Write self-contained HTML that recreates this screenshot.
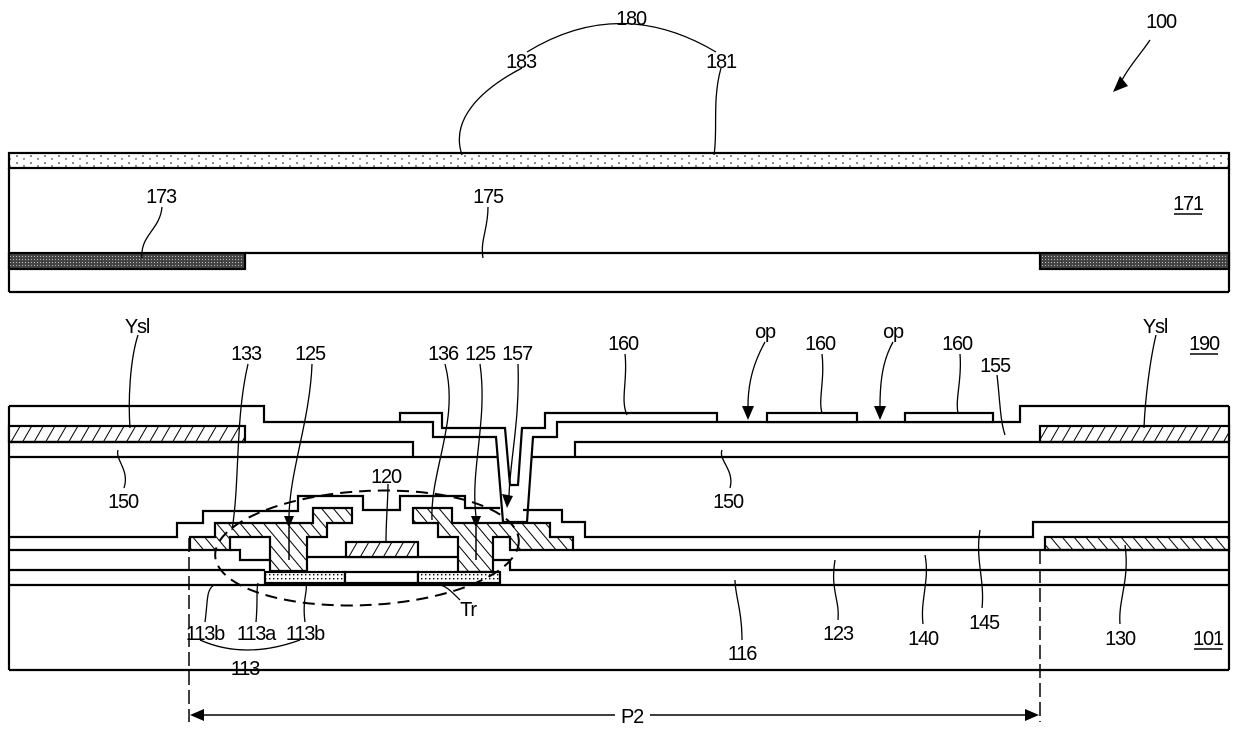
<!DOCTYPE html>
<html><head><meta charset="utf-8"><style>
html,body{margin:0;padding:0;background:#fff;}
svg{display:block;}
text{font-family:"Liberation Sans",sans-serif;font-size:20px;letter-spacing:-1.2px;fill:#000;}
</style></head><body>
<svg width="1240" height="736" viewBox="0 0 1240 736" xmlns="http://www.w3.org/2000/svg">
<defs>
<pattern id="hf" width="10" height="10" patternUnits="userSpaceOnUse" patternTransform="rotate(30)">
<rect width="10" height="10" fill="#fff"/><line x1="0" y1="0" x2="0" y2="10" stroke="#000" stroke-width="2"/></pattern>
<pattern id="hb" width="9" height="9" patternUnits="userSpaceOnUse" patternTransform="rotate(-40)">
<rect width="9" height="9" fill="#fff"/><line x1="0" y1="0" x2="0" y2="9" stroke="#000" stroke-width="2"/></pattern>
<pattern id="dots" width="14" height="7" patternUnits="userSpaceOnUse">
<rect width="14" height="7" fill="#fff"/><circle cx="3" cy="2" r="0.8" fill="#000"/><circle cx="10" cy="5" r="0.7" fill="#000"/></pattern>
<pattern id="dark" width="3" height="3" patternUnits="userSpaceOnUse">
<rect width="3" height="3" fill="#444"/><rect x="1" y="1" width="1" height="1" fill="#bbb"/></pattern>
<pattern id="sd" width="4" height="4" patternUnits="userSpaceOnUse">
<rect width="4" height="4" fill="#fff"/><rect x="1" y="2" width="1.4" height="1.4" fill="#000"/></pattern>
</defs>
<g fill="none" stroke="#000" stroke-width="2.2">
<rect x="9" y="153" width="1220" height="15" fill="url(#dots)"/>
<line x1="9" y1="168" x2="9" y2="292"/>
<line x1="1229" y1="168" x2="1229" y2="292"/>
<line x1="9" y1="292" x2="1229" y2="292"/>
<line x1="245" y1="253" x2="1040" y2="253"/>
<rect x="9" y="253" width="236" height="16" fill="url(#dark)"/>
<rect x="1040" y="253" width="189" height="16" fill="url(#dark)"/>

<line x1="9" y1="406" x2="9" y2="670"/>
<line x1="1229" y1="406" x2="1229" y2="670"/>
<line x1="9" y1="670" x2="1229" y2="670"/>
<polyline points="9,406 264,406 264,422 433,422 433,437 496,437 503,522 527,522 533,437 557,437 557,422 1020,422 1020,406 1229,406"/>
<polyline points="400,422 400,413 442,413 442,428 505,428 510,485 518,485 522,428 545,428 545,413 717,413 717,422"/>
<rect x="767" y="413" width="90" height="9" fill="#fff"/>
<rect x="905" y="413" width="88" height="9" fill="#fff"/>
<rect x="9" y="426" width="236" height="16" fill="url(#hf)"/>
<rect x="1040" y="426" width="189" height="16" fill="url(#hf)"/>
<polyline points="9,442 413,442 413,457"/>
<polyline points="575,457 575,442 1229,442"/>
<line x1="9" y1="457" x2="497" y2="457"/>
<line x1="531" y1="457" x2="1229" y2="457"/>
<polyline points="9,537 177,537 177,523 203,523 203,511 298,511 298,496 363,496 363,510 400,510 400,496 465,496 465,508 500,508"/>
<polyline points="523,510 562,510 562,522 585,522 585,537 1033,537 1033,522 1229,522"/>
<rect x="1045" y="537" width="184" height="13" fill="url(#hb)"/>
<line x1="9" y1="550" x2="190" y2="550"/>
<line x1="573" y1="550" x2="1229" y2="550"/>
<line x1="9" y1="570" x2="265" y2="570"/>
<polyline points="230,550 240,550 240,560 270,560"/>
<line x1="307" y1="557" x2="458" y2="557"/>
<polyline points="493,560 510,560 510,570 1229,570"/>
<line x1="9" y1="585" x2="1229" y2="585"/>
<polygon points="190,550 190,537 215,537 215,523 313,523 313,508 352,508 352,523 327,523 327,537 307,537 307,571 270,571 270,537 230,537 230,550" fill="url(#hb)"/>
<polygon points="413,508 452,508 452,523 550,523 550,537 573,537 573,550 510,550 510,537 493,537 493,572 458,572 458,537 438,537 438,523 413,523" fill="url(#hb)"/>
<line x1="289" y1="527" x2="289" y2="560" stroke-width="1.5"/>
<line x1="476" y1="527" x2="476" y2="560" stroke-width="1.5"/>
<rect x="346" y="542" width="72" height="15" fill="url(#hf)"/>
<rect x="265" y="572" width="80" height="11" fill="url(#sd)"/>
<rect x="345" y="572" width="73" height="11" fill="#fff"/>
<rect x="418" y="572" width="82" height="11" fill="url(#sd)"/>
<ellipse cx="367" cy="548" rx="152" ry="57" stroke-dasharray="12,7" stroke-width="2" transform="rotate(-3 367 548)"/>
<line x1="189" y1="538" x2="189" y2="722" stroke-width="1.5" stroke-dasharray="14,5"/>
<line x1="1040" y1="550" x2="1040" y2="722" stroke-width="1.5" stroke-dasharray="14,5"/>
<line x1="192" y1="715" x2="615" y2="715" stroke-width="1.5"/>
<line x1="650" y1="715" x2="1037" y2="715" stroke-width="1.5"/>
</g>
<g fill="#000">
<polygon points="190,715 204,709 204,721"/>
<polygon points="1039,715 1025,709 1025,721"/>
<polygon points="1113,92 1120,76 1128,86"/>
<polygon points="289,528 284,516 294,516"/>
<polygon points="476,528 471,516 481,516"/>
<polygon points="507,508 502,494 513,496"/>
<polygon points="748,420 742,406 754,406"/>
<polygon points="880,420 874,406 886,406"/>
</g>
<g fill="none" stroke="#000" stroke-width="1.3">
<path d="M527,52 Q620,-5 716,52"/>
<path d="M522,68 C480,90 450,120 462,155"/>
<path d="M721,68 C712,100 718,130 714,155"/>
<path d="M1150,40 C1140,55 1130,65 1122,80"/>
<path d="M162,207 C160,230 140,235 142,258"/>
<path d="M488,207 C488,230 480,240 483,258"/>
<path d="M138,335 C130,360 128,400 130,428"/>
<path d="M248,364 C235,420 240,480 232,530"/>
<path d="M312,364 C310,420 290,470 289,516"/>
<path d="M445,364 C460,420 430,470 432,520"/>
<path d="M480,364 C488,420 470,470 476,516"/>
<path d="M518,364 C520,420 510,460 509,496"/>
<path d="M625,354 C628,380 620,400 627,415"/>
<path d="M765,342 C755,360 748,380 748,406"/>
<path d="M822,354 C825,380 818,400 822,413"/>
<path d="M893,342 C883,360 880,380 880,406"/>
<path d="M960,354 C962,380 955,400 958,413"/>
<path d="M997,375 C1000,400 1000,420 1005,435"/>
<path d="M1156,335 C1150,360 1145,400 1144,428"/>
<path d="M124,488 C130,470 115,460 118,450"/>
<path d="M730,488 C735,470 718,460 722,450"/>
<path d="M388,484 C388,500 386,520 386,542"/>
<path d="M205,622 C208,600 206,590 214,585"/>
<path d="M256,622 C258,600 256,590 258,583"/>
<path d="M305,622 C302,600 308,590 306,585"/>
<path d="M460,600 C450,590 445,585 438,585"/>
<path d="M742,640 C742,610 735,595 735,580"/>
<path d="M838,620 C840,600 830,590 835,560"/>
<path d="M923,624 C920,600 930,580 925,555"/>
<path d="M982,608 C985,580 975,560 980,530"/>
<path d="M1120,624 C1118,600 1130,580 1125,545"/>
<path d="M200,640 Q245,660 300,640"/>
</g>
<g text-anchor="middle">
<text x="631" y="25">180</text>
<text x="521" y="68">183</text>
<text x="721" y="68">181</text>
<text x="1161" y="28">100</text>
<text x="161" y="203">173</text>
<text x="488" y="203">175</text>
<text x="1188" y="210">171</text>
<text x="137" y="333">Ysl</text>
<text x="1155" y="333">Ysl</text>
<text x="1204" y="350">190</text>
<text x="246" y="360">133</text>
<text x="310" y="360">125</text>
<text x="443" y="360">136</text>
<text x="480" y="360">125</text>
<text x="517" y="360">157</text>
<text x="623" y="350">160</text>
<text x="765" y="338">op</text>
<text x="820" y="350">160</text>
<text x="893" y="338">op</text>
<text x="957" y="350">160</text>
<text x="995" y="372">155</text>
<text x="123" y="508">150</text>
<text x="386" y="483">120</text>
<text x="728" y="508">150</text>
<text x="984" y="629">145</text>
<text x="838" y="640">123</text>
<text x="923" y="645">140</text>
<text x="742" y="660">116</text>
<text x="1120" y="645">130</text>
<text x="1208" y="645">101</text>
<text x="468" y="616">Tr</text>
<text x="205" y="640">113b</text>
<text x="256" y="640">113a</text>
<text x="305" y="640">113b</text>
<text x="245" y="675">113</text>
<text x="632" y="723">P2</text>
</g>
<g stroke="#000" stroke-width="1.4">
<line x1="1174" y1="214" x2="1202" y2="214"/>
<line x1="1190" y1="354" x2="1218" y2="354"/>
<line x1="1194" y1="649" x2="1222" y2="649"/>
</g>
</svg>
</body></html>
